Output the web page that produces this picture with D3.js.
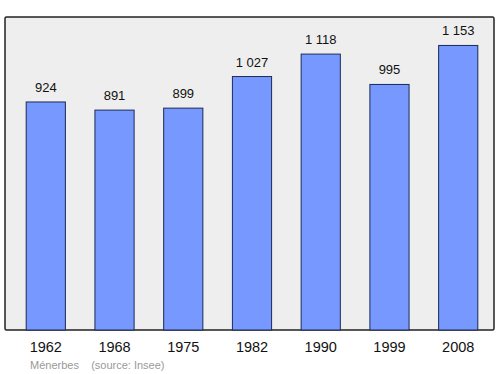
<!DOCTYPE html>
<html>
<head>
<meta charset="utf-8">
<script src="https://cdn.jsdelivr.net/npm/d3@7"></script>
<style>
  body { margin: 0; background: #fff; }
  text { font-family: "Liberation Sans", Arial, sans-serif; }
</style>
</head>
<body>
<div id="chart"></div>
<script>
// Data
const years = ["1962", "1968", "1975", "1982", "1990", "1999", "2008"];
const population = [924, 891, 899, 1027, 1118, 995, 1153];
const valueLabels = ["924", "891", "899", "1 027", "1 118", "995", "1 153"];

// SVG setup
let svgWidth = 500;
let svgHeight = 374;
let frame = { left: 5, top: 17, right: 494, bottom: 330 };

let svg = d3.select("#chart")
    .append("svg")
    .attr("width", svgWidth)
    .attr("height", svgHeight);

// background frame
svg.append("rect")
    .attr("x", frame.left)
    .attr("y", frame.top)
    .attr("width", frame.right - frame.left)
    .attr("height", frame.bottom - frame.top)
    .attr("rx", 1.5)
    .attr("fill", "#eeeeee")
    .attr("stroke", "#222")
    .attr("stroke-width", 1.5);

// scales
let xScale = d3.scaleBand()
    .domain(years)
    .range([frame.left + 4, frame.right + 1])
    .paddingInner(0.43)
    .paddingOuter(0.25);

let yScale = d3.scaleLinear()
    .domain([0, d3.max(population) * 1.1])
    .range([frame.bottom, frame.top]);

// bars
let bars = svg.selectAll(".bar")
    .data(population)
    .enter()
    .append("g");

bars.append("rect")
    .attr("x", (d, i) => xScale(years[i]))
    .attr("y", d => yScale(d))
    .attr("width", xScale.bandwidth())
    .attr("height", d => frame.bottom - yScale(d))
    .attr("fill", "#7799ff")
    .attr("stroke", "#1a2a55")
    .attr("stroke-width", 1);

bars.append("text")
    .text((d, i) => valueLabels[i])
    .attr("x", (d, i) => xScale(years[i]) + xScale.bandwidth() / 2)
    .attr("y", d => yScale(d) - 10)
    .attr("text-anchor", "middle")
    .attr("font-size", "13px")
    .attr("fill", "#111");

// x axis labels
let bottomAxis = d3.axisBottom(xScale).tickSize(0).tickPadding(12);
let axisG = svg.append("g")
    .attr("transform", `translate(0,${frame.bottom})`)
    .call(bottomAxis);
axisG.select(".domain").remove();
axisG.selectAll("text")
    .attr("font-size", "14.5px")
    .attr("font-family", "Liberation Sans, Arial, sans-serif")
    .attr("fill", "#111");

// source note
svg.append("text")
    .attr("x", 30)
    .attr("y", 369)
    .attr("font-size", "11px")
    .attr("fill", "#999")
    .text("Ménerbes    (source: Insee)")
    .attr("xml:space", "preserve")
    .style("white-space", "pre");
</script>
</body>
</html>
